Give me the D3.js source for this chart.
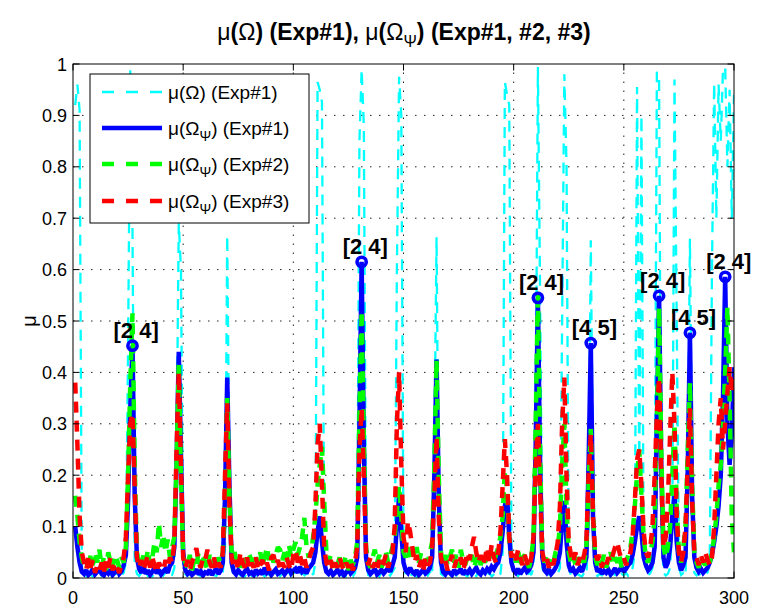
<!DOCTYPE html>
<html><head><meta charset="utf-8">
<script src="https://cdn.jsdelivr.net/npm/d3@7"></script>
<style>
body{margin:0;background:#fff;}
svg{display:block;font-family:"Liberation Sans",Arial,Helvetica,sans-serif;}
</style></head><body>
<svg id="chart" width="757" height="608"></svg>
<script>
// ---------- data ----------
const xTicks = [0, 50, 100, 150, 200, 250, 300];
const xTickLabels = ["0", "50", "100", "150", "200", "250", "300"];
const yTicks = [0, 0.1, 0.2, 0.3, 0.4, 0.5, 0.6, 0.7, 0.8, 0.9, 1];
const yTickLabels = ["0", "0.1", "0.2", "0.3", "0.4", "0.5", "0.6", "0.7", "0.8", "0.9", "1"];

// mu(Omega) Exp#1 (cyan), index 1..300
const muOmegaExp1 = [
0.92,0.96,0.91,0.02,0.008,0.004,0.010,0.006,0.003,0.009,
0.005,0.012,0.004,0.008,0.003,0.010,0.006,0.004,0.011,0.005,
0.008,0.004,0.010,0.03,0.45,0.99,0.68,0.03,0.008,0.004,
0.009,0.005,0.012,0.004,0.007,0.003,0.010,0.006,0.004,0.009,
0.005,0.011,0.004,0.008,0.006,0.02,0.25,0.69,0.6,0.03,
0.007,0.004,0.010,0.005,0.003,0.009,0.006,0.004,0.012,0.005,
0.008,0.003,0.010,0.006,0.004,0.009,0.005,0.012,0.06,0.667,
0.18,0.02,0.006,0.004,0.010,0.005,0.008,0.003,0.011,0.006,
0.004,0.009,0.005,0.012,0.004,0.007,0.003,0.010,0.006,0.004,
0.009,0.005,0.011,0.004,0.008,0.006,0.003,0.010,0.005,0.012,
0.004,0.008,0.006,0.010,0.005,0.009,0.004,0.012,0.006,0.03,
0.965,0.95,0.926,0.05,0.008,0.005,0.010,0.004,0.007,0.003,
0.009,0.005,0.011,0.004,0.008,0.006,0.003,0.010,0.05,0.85,
0.99,0.88,0.04,0.006,0.004,0.010,0.005,0.008,0.003,0.011,
0.006,0.004,0.009,0.005,0.012,0.02,0.6,0.975,0.9,0.05,
0.006,0.010,0.004,0.008,0.005,0.003,0.011,0.006,0.004,0.009,
0.005,0.012,0.004,0.25,0.663,0.1,0.008,0.005,0.010,0.004,
0.007,0.003,0.009,0.005,0.011,0.004,0.008,0.006,0.003,0.010,
0.005,0.009,0.004,0.012,0.006,0.004,0.008,0.005,0.011,0.003,
0.007,0.010,0.004,0.008,0.05,0.965,0.94,0.92,0.05,0.006,
0.009,0.004,0.010,0.005,0.007,0.003,0.011,0.006,0.02,0.3,
0.994,0.55,0.02,0.006,0.004,0.009,0.005,0.012,0.004,0.008,
0.02,0.5,0.98,0.8,0.02,0.006,0.010,0.004,0.008,0.005,
0.003,0.010,0.006,0.1,0.657,0.2,0.01,0.004,0.008,0.005,
0.011,0.004,0.007,0.003,0.009,0.006,0.012,0.004,0.008,0.005,
0.010,0.004,0.007,0.02,0.05,0.955,0.2,0.9,0.05,0.01,
0.006,0.009,0.02,0.1,0.985,0.97,0.1,0.01,0.005,0.008,
0.02,0.1,0.97,0.5,0.02,0.006,0.010,0.004,0.2,0.66,
0.2,0.01,0.005,0.009,0.004,0.008,0.006,0.011,0.03,0.6,
0.963,0.7,0.96,0.85,0.99,0.994,0.8,0.95,0.7,0.94
];

// mu(Omega_Psi) Exp#1 (blue)
const muPsiExp1 = [
0.10,0.06,0.03,0.012,0.008,0.015,0.006,0.010,0.018,0.007,
0.012,0.020,0.008,0.005,0.014,0.009,0.016,0.006,0.011,0.019,
0.008,0.013,0.025,0.045,0.15,0.33,0.452,0.16,0.04,0.018,
0.010,0.022,0.008,0.015,0.006,0.012,0.020,0.009,0.016,0.007,
0.013,0.018,0.010,0.024,0.030,0.06,0.22,0.44,0.24,0.05,
0.015,0.008,0.012,0.006,0.010,0.017,0.007,0.013,0.005,0.011,
0.009,0.016,0.006,0.012,0.019,0.008,0.014,0.03,0.16,0.39,
0.18,0.03,0.012,0.007,0.015,0.010,0.006,0.013,0.018,0.008,
0.011,0.006,0.016,0.009,0.013,0.007,0.020,0.010,0.014,0.006,
0.012,0.017,0.008,0.011,0.015,0.007,0.013,0.020,0.009,0.014,
0.018,0.010,0.022,0.012,0.016,0.009,0.019,0.024,0.03,0.05,
0.09,0.12,0.07,0.03,0.012,0.008,0.014,0.006,0.010,0.016,
0.008,0.013,0.005,0.011,0.017,0.009,0.014,0.020,0.04,0.30,
0.615,0.26,0.04,0.015,0.008,0.012,0.018,0.007,0.011,0.016,
0.009,0.014,0.020,0.012,0.025,0.04,0.10,0.16,0.09,0.03,
0.015,0.010,0.020,0.012,0.008,0.015,0.006,0.011,0.017,0.009,
0.013,0.020,0.04,0.20,0.425,0.16,0.03,0.012,0.007,0.014,
0.010,0.006,0.016,0.009,0.012,0.018,0.007,0.013,0.010,0.016,
0.008,0.014,0.020,0.011,0.007,0.015,0.010,0.018,0.013,0.022,
0.017,0.025,0.030,0.05,0.09,0.14,0.16,0.08,0.03,0.015,
0.010,0.018,0.008,0.014,0.020,0.012,0.016,0.025,0.05,0.26,
0.545,0.22,0.04,0.015,0.010,0.017,0.008,0.013,0.020,0.030,
0.05,0.11,0.15,0.07,0.025,0.012,0.018,0.009,0.014,0.020,
0.012,0.025,0.04,0.22,0.457,0.12,0.03,0.012,0.018,0.008,
0.014,0.010,0.016,0.007,0.012,0.019,0.010,0.015,0.022,0.012,
0.018,0.025,0.030,0.045,0.07,0.10,0.12,0.09,0.04,0.025,
0.015,0.020,0.030,0.06,0.30,0.549,0.21,0.04,0.02,0.03,
0.06,0.12,0.16,0.07,0.03,0.015,0.025,0.04,0.21,0.477,
0.16,0.04,0.02,0.012,0.018,0.010,0.015,0.020,0.030,0.045,
0.07,0.10,0.14,0.20,0.35,0.586,0.30,0.22,0.28,0.41
];

// mu(Omega_Psi) Exp#2 (green)
const muPsiExp2 = [
0.16,0.12,0.07,0.04,0.02,0.035,0.015,0.045,0.025,0.05,
0.03,0.055,0.02,0.04,0.015,0.05,0.03,0.02,0.045,0.035,
0.02,0.04,0.03,0.06,0.2,0.38,0.515,0.22,0.05,0.03,
0.02,0.045,0.03,0.055,0.025,0.04,0.07,0.05,0.107,0.06,
0.085,0.05,0.075,0.04,0.06,0.08,0.22,0.42,0.2,0.04,
0.03,0.02,0.045,0.015,0.035,0.025,0.05,0.02,0.04,0.03,
0.015,0.045,0.025,0.035,0.02,0.04,0.03,0.05,0.15,0.35,
0.16,0.05,0.06,0.035,0.045,0.02,0.04,0.03,0.025,0.045,
0.035,0.02,0.04,0.03,0.05,0.025,0.04,0.06,0.035,0.05,
0.03,0.045,0.06,0.055,0.035,0.05,0.03,0.065,0.04,0.055,
0.07,0.045,0.06,0.08,0.117,0.06,0.04,0.05,0.08,0.12,
0.18,0.22,0.255,0.15,0.05,0.03,0.045,0.02,0.035,0.025,
0.04,0.02,0.03,0.045,0.015,0.035,0.025,0.04,0.07,0.32,
0.52,0.27,0.06,0.03,0.02,0.04,0.055,0.03,0.045,0.02,
0.035,0.05,0.03,0.045,0.06,0.08,0.13,0.18,0.12,0.05,
0.04,0.06,0.035,0.055,0.04,0.06,0.03,0.05,0.025,0.045,
0.03,0.05,0.07,0.22,0.424,0.2,0.05,0.03,0.045,0.025,
0.04,0.055,0.03,0.045,0.02,0.055,0.035,0.025,0.04,0.03,
0.045,0.02,0.035,0.05,0.025,0.04,0.03,0.045,0.035,0.05,
0.03,0.045,0.06,0.08,0.12,0.21,0.17,0.07,0.04,0.05,
0.03,0.055,0.02,0.04,0.045,0.03,0.02,0.04,0.08,0.3,
0.56,0.24,0.05,0.03,0.045,0.025,0.04,0.03,0.05,0.06,
0.1,0.22,0.3,0.14,0.05,0.03,0.045,0.025,0.04,0.03,
0.045,0.03,0.06,0.18,0.29,0.13,0.04,0.025,0.04,0.03,
0.045,0.02,0.035,0.05,0.025,0.04,0.03,0.045,0.02,0.035,
0.03,0.045,0.06,0.09,0.14,0.2,0.25,0.16,0.08,0.04,
0.03,0.05,0.07,0.12,0.3,0.525,0.25,0.06,0.04,0.06,
0.1,0.2,0.3,0.14,0.05,0.03,0.06,0.1,0.25,0.38,
0.18,0.05,0.03,0.02,0.04,0.03,0.025,0.04,0.03,0.05,
0.08,0.12,0.18,0.22,0.3,0.4,0.527,0.35,0.12,0.05
];

// mu(Omega_Psi) Exp#3 (red)
const muPsiExp3 = [
0.38,0.26,0.12,0.05,0.03,0.015,0.04,0.02,0.035,0.01,
0.025,0.015,0.03,0.01,0.035,0.02,0.04,0.015,0.03,0.02,
0.01,0.025,0.04,0.08,0.2,0.3,0.32,0.18,0.04,0.02,
0.035,0.015,0.03,0.045,0.02,0.04,0.025,0.01,0.03,0.02,
0.015,0.035,0.02,0.04,0.03,0.07,0.25,0.40,0.22,0.04,
0.02,0.035,0.015,0.03,0.045,0.058,0.03,0.02,0.04,0.035,
0.055,0.03,0.02,0.04,0.015,0.03,0.02,0.05,0.2,0.34,
0.14,0.04,0.02,0.035,0.015,0.05,0.03,0.02,0.04,0.015,
0.03,0.02,0.04,0.015,0.025,0.035,0.02,0.03,0.015,0.04,
0.045,0.025,0.035,0.015,0.03,0.02,0.04,0.025,0.015,0.045,
0.055,0.03,0.045,0.025,0.04,0.02,0.035,0.05,0.06,0.14,
0.26,0.3,0.18,0.06,0.03,0.02,0.035,0.015,0.03,0.02,
0.04,0.025,0.015,0.03,0.02,0.035,0.015,0.03,0.06,0.25,
0.33,0.2,0.05,0.025,0.04,0.02,0.03,0.015,0.035,0.02,
0.03,0.045,0.02,0.035,0.05,0.1,0.3,0.4,0.22,0.08,
0.05,0.11,0.09,0.06,0.03,0.045,0.02,0.035,0.015,0.04,
0.025,0.03,0.06,0.16,0.275,0.12,0.04,0.025,0.035,0.015,
0.03,0.045,0.02,0.035,0.025,0.04,0.015,0.03,0.05,0.035,
0.06,0.08,0.05,0.03,0.045,0.025,0.04,0.06,0.03,0.065,
0.04,0.03,0.05,0.09,0.18,0.27,0.2,0.08,0.04,0.05,
0.035,0.055,0.04,0.025,0.045,0.03,0.02,0.04,0.08,0.22,
0.3,0.17,0.05,0.03,0.04,0.02,0.035,0.025,0.045,0.07,
0.14,0.3,0.39,0.2,0.07,0.045,0.03,0.05,0.025,0.04,
0.03,0.045,0.07,0.2,0.28,0.12,0.05,0.035,0.045,0.02,
0.035,0.025,0.04,0.03,0.045,0.06,0.07,0.05,0.035,0.04,
0.025,0.035,0.05,0.08,0.15,0.23,0.25,0.18,0.09,0.05,
0.04,0.06,0.1,0.2,0.32,0.39,0.2,0.06,0.08,0.15,
0.28,0.4,0.3,0.12,0.05,0.03,0.05,0.1,0.22,0.33,
0.15,0.05,0.04,0.025,0.045,0.03,0.05,0.035,0.025,0.04,
0.1,0.2,0.3,0.35,0.25,0.3,0.36,0.41,0.36,0.39
];

const peakX = [27, 131, 211, 235, 266, 280, 296];
const peakLabels = ["[2 4]", "[2 4]", "[2 4]", "[4 5]", "[2 4]", "[4 5]", "[2 4]"];

const seriesNames = ["μ(Ω) (Exp#1)", "μ(Ω_Ψ) (Exp#1)", "μ(Ω_Ψ) (Exp#2)", "μ(Ω_Ψ) (Exp#3)"];
const seriesColors = ["#00ffff", "#0000ff", "#00ff00", "#ff0000"];

// ---------- layout ----------
const svg = d3.select("#chart");
const L = 73, R = 734, T = 64, B = 578;
const x = d3.scaleLinear().domain([0, 300]).range([L, R]);
const y = d3.scaleLinear().domain([0, 1]).range([B, T]);

svg.append("rect").attr("width", 757).attr("height", 608).attr("fill", "#fff");

// grid
const grid = svg.append("g");
yTicks.slice(1, -1).forEach(v => {
  grid.append("line").attr("x1", L).attr("x2", R).attr("y1", y(v)).attr("y2", y(v))
    .attr("stroke", "#222").attr("stroke-width", 1).attr("stroke-dasharray", "1.5,7.5");
});
xTicks.slice(1, -1).forEach(v => {
  grid.append("line").attr("y1", B).attr("y2", T).attr("x1", x(v)).attr("x2", x(v))
    .attr("stroke", "#222").attr("stroke-width", 1).attr("stroke-dasharray", "1.5,7.5");
});

svg.append("clipPath").attr("id", "clip").append("rect")
  .attr("x", L).attr("y", T - 2).attr("width", R - L).attr("height", B - T + 2);

const plot = svg.append("g").attr("clip-path", "url(#clip)");
const line = d3.line().x((d, i) => x(i + 1)).y(d => y(d));

const styles = [
  {data: muOmegaExp1, w: 2.3, dash: "11,8"},
  {data: muPsiExp1, w: 4.5, dash: null},
  {data: muPsiExp2, w: 4.5, dash: "11,8"},
  {data: muPsiExp3, w: 4.5, dash: "11,8"}
];
styles.forEach((s, k) => {
  const p = plot.append("path").datum(s.data).attr("d", line)
    .attr("fill", "none").attr("stroke", seriesColors[k]).attr("stroke-width", s.w)
    .attr("stroke-linejoin", "miter").attr("stroke-miterlimit", 2);
  if (s.dash) p.attr("stroke-dasharray", s.dash);
});

// markers and labels
peakX.forEach((px, i) => {
  const v = muPsiExp1[px - 1];
  svg.append("circle").attr("cx", x(px)).attr("cy", y(v)).attr("r", 4.6)
    .attr("fill", "none").attr("stroke", "#0000ff").attr("stroke-width", 3.6);
  svg.append("text").attr("x", x(px) - 19).attr("y", y(v) - 8)
    .attr("font-size", 22).attr("font-weight", "bold").attr("fill", "#000")
    .text(peakLabels[i]);
});

// axes box & ticks
const ax = svg.append("g").attr("stroke", "#000").attr("stroke-width", 1).attr("fill", "none");
ax.append("rect").attr("x", L).attr("y", T).attr("width", R - L).attr("height", B - T);
const tl = 6.5;
xTicks.forEach(v => {
  ax.append("line").attr("x1", x(v)).attr("x2", x(v)).attr("y1", B).attr("y2", B - tl);
  ax.append("line").attr("x1", x(v)).attr("x2", x(v)).attr("y1", T).attr("y2", T + tl);
});
yTicks.forEach(v => {
  ax.append("line").attr("x1", L).attr("x2", L + tl).attr("y1", y(v)).attr("y2", y(v));
  ax.append("line").attr("x1", R).attr("x2", R - tl).attr("y1", y(v)).attr("y2", y(v));
});

// tick labels
xTicks.forEach((v, i) => {
  svg.append("text").attr("x", x(v)).attr("y", 604).attr("text-anchor", "middle")
    .attr("font-size", 18).text(xTickLabels[i]);
});
yTicks.forEach((v, i) => {
  svg.append("text").attr("x", 67).attr("y", y(v) + 6.5).attr("text-anchor", "end")
    .attr("font-size", 18).text(yTickLabels[i]);
});

// y label
svg.append("text").attr("transform", "translate(36,321) rotate(-90)")
  .attr("text-anchor", "middle").attr("font-size", 20).text("μ");

// title
const title = svg.append("text").attr("x", 404).attr("y", 40).attr("text-anchor", "middle")
  .attr("font-size", 23).attr("font-weight", "bold");
title.append("tspan").attr("font-weight", "normal").text("μ");
title.append("tspan").text("(");
title.append("tspan").attr("font-weight", "normal").text("Ω");
title.append("tspan").text(") (Exp#1), ");
title.append("tspan").attr("font-weight", "normal").text("μ");
title.append("tspan").text("(");
title.append("tspan").attr("font-weight", "normal").text("Ω");
title.append("tspan").attr("font-weight", "normal").attr("font-size", 16).attr("dy", 7).text("Ψ");
title.append("tspan").attr("dy", -7).text(") (Exp#1, #2, #3)");

// legend
const lg = svg.append("g");
lg.append("rect").attr("x", 90).attr("y", 74).attr("width", 219).attr("height", 149)
  .attr("fill", "#fff").attr("stroke", "#000").attr("stroke-width", 1);
const rowsY = [92, 128, 164, 201];
styles.forEach((s, k) => {
  const ly = rowsY[k];
  const ln = lg.append("line").attr("x1", 102).attr("x2", 162).attr("y1", ly).attr("y2", ly)
    .attr("stroke", seriesColors[k]).attr("stroke-width", s.w);
  if (s.dash) ln.attr("stroke-dasharray", "12,12");
  const t = lg.append("text").attr("x", 168).attr("y", ly + 7).attr("font-size", 19);
  const name = seriesNames[k];
  if (name.indexOf("_") >= 0) {
    const parts = name.split("_");
    t.append("tspan").text(parts[0]);
    t.append("tspan").attr("font-size", 14).attr("dy", 6).text(parts[1].charAt(0));
    t.append("tspan").attr("dy", -6).text(parts[1].slice(1));
  } else {
    t.text(name);
  }
});
</script>
</body></html>
